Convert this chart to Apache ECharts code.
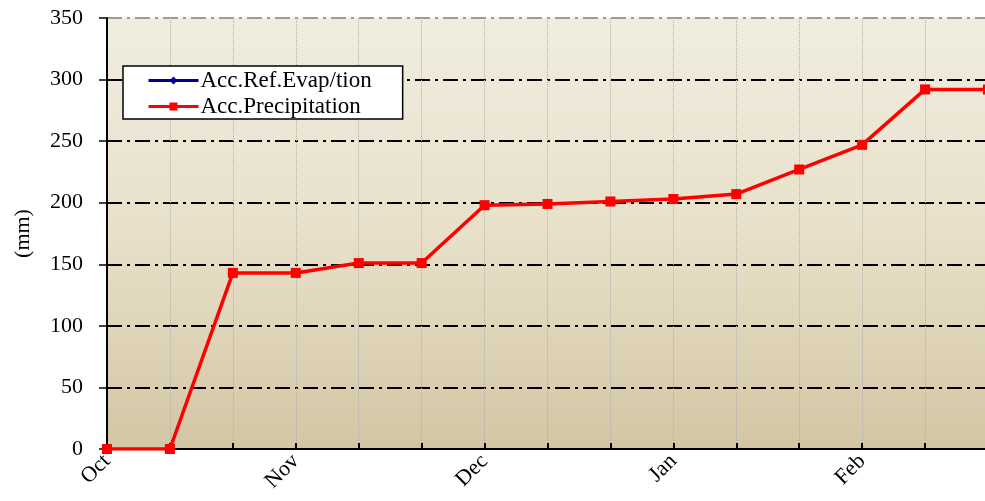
<!DOCTYPE html>
<html>
<head>
    <meta charset="utf-8">
    <title>ECharts</title>
    <script type="text/javascript" src="https://cdn.jsdelivr.net/npm/echarts@6/dist/echarts.min.js"></script>
    <style>
        html, body { margin: 0; padding: 0; background: #fff; }
    </style>
</head>
<body>
<div id="main" style="width: 985px;height:501px;"></div>
<script type="text/javascript">
    // dekads from 1 Oct; month names only at the first dekad
    var dekads = ['Oct', '', '', 'Nov', '', '', 'Dec', '', '', 'Jan', '', '', 'Feb', '', ''];
    var accEvap = [0];
    var accPrecip = [0, 0, 143, 143, 151, 151, 198, 199, 201, 203, 207, 227, 247, 292, 292];
    var yTicks = [0, 50, 100, 150, 200, 250, 300, 350];

    var myChart = echarts.init(document.getElementById('main'));
    var serif = 'Liberation Serif';

    // dash-dot black grid, the top (350) line is grey
    var splitColors = yTicks.map(function (v, i) { return i === yTicks.length - 1 ? '#9a9a9a' : '#000'; });

    var option = {
        animation: false,
        textStyle: { fontFamily: serif },
        grid: {
            left: 107, top: 18, width: 881, height: 431,
            outerBoundsMode: 'none',
            show: true,
            borderWidth: 0,
            backgroundColor: new echarts.graphic.LinearGradient(0, 0, 0, 1, [
                { offset: 0, color: '#f0ede0' },
                { offset: 0.5, color: '#e8e0c9' },
                { offset: 1, color: '#d3c6a4' }
            ])
        },
        legend: {
            left: 123, top: 66,
            orient: 'vertical',
            padding: [3, 31, 1, 24],
            itemGap: 3,
            itemWidth: 50,
            itemHeight: 10,
            backgroundColor: '#fff',
            borderColor: '#000',
            borderWidth: 1.5,
            borderRadius: 0,
            lineStyle: { width: 3 },
            textStyle: { fontFamily: serif, fontSize: 23, color: '#000', padding: [0, 0, 0, -3] },
            data: ['Acc.Ref.Evap/tion', 'Acc.Precipitation']
        },
        xAxis: {
            type: 'category',
            boundaryGap: false,
            data: dekads,
            axisLine: { lineStyle: { color: '#000', width: 2 } },
            axisTick: { inside: true, length: 6, interval: 0, lineStyle: { color: '#000', width: 2 } },
            axisLabel: {
                interval: 0, rotate: 45, margin: 9,
                fontFamily: serif, fontSize: 22, color: '#000'
            },
            splitLine: { show: true, interval: 0, lineStyle: { color: '#b4b0a4', type: 'dotted', width: 1 } }
        },
        yAxis: {
            type: 'value',
            min: yTicks[0],
            max: yTicks[yTicks.length - 1],
            interval: 50,
            name: '(mm)',
            nameLocation: 'middle',
            nameRotate: 90,
            nameGap: 73,
            nameTextStyle: { fontFamily: serif, fontSize: 22, color: '#000' },
            axisLine: { show: true, lineStyle: { color: '#000', width: 2 } },
            axisTick: { show: true, inside: false, length: 8, lineStyle: { color: '#000', width: 1.5 } },
            axisLabel: { margin: 24, fontFamily: serif, fontSize: 22, color: '#000' },
            splitLine: { show: true, lineStyle: { color: splitColors, width: 2, type: [15, 5, 3, 5] } }
        },
        series: [{
            name: 'Acc.Ref.Evap/tion',
            type: 'line',
            data: accEvap,
            symbol: 'diamond',
            symbolSize: 11,
            itemStyle: { color: '#000090' },
            lineStyle: { color: '#000090', width: 3 }
        }, {
            name: 'Acc.Precipitation',
            type: 'line',
            data: accPrecip,
            symbol: 'rect',
            symbolSize: 10,
            itemStyle: { color: '#ff0000' },
            lineStyle: { color: '#ff0000', width: 3.5 }
        }]
    };

    myChart.setOption(option);
</script>
</body>
</html>
